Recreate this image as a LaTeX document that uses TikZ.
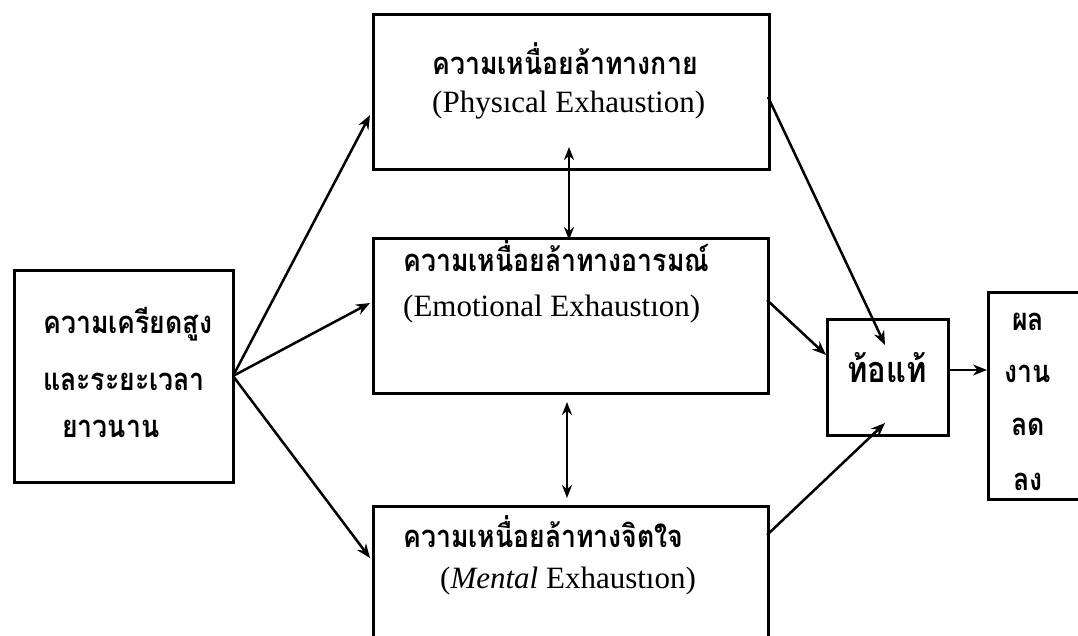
\documentclass[tikz,border=0pt]{standalone}
\usepackage{fontspec}
\setmainfont{Liberation Serif}
\newfontfamily\thaifont[Script=Thai,FakeStretch=0.86]{Loma}
\usetikzlibrary{arrows.meta,calc}
\begin{document}
\begin{tikzpicture}[x=1pt,y=-1pt,
  box/.style={draw, line width=2.8pt, inner sep=0pt, anchor=north west},
  th/.style={font=\thaifont\bfseries\fontsize{31}{36}\selectfont, inner sep=0pt, anchor=base west},
  en/.style={font=\fontsize{31}{36}\selectfont, inner sep=0pt, anchor=base west},
  link/.style={line width=2.5pt, -{Stealth[length=14pt,width=11pt]}},
  both/.style={line width=2.2pt, {Stealth[length=13pt,width=10pt]}-{Stealth[length=13pt,width=10pt]}}]
\useasboundingbox (0,0) rectangle (1078,636);
\clip (0,0) rectangle (1078,636);

% boxes
\node[box, minimum width=219pt, minimum height=212pt] (src)   at (13,269)  {};
\node[box, minimum width=396pt, minimum height=155pt] (phy)   at (372,13)  {};
\node[box, minimum width=395pt, minimum height=155pt] (emo)   at (372,237) {};
\node[box, minimum width=395pt, minimum height=150pt] (men)   at (372,505) {};
\node[box, minimum width=121pt, minimum height=116pt] (tired) at (826,318) {};
\node[box, minimum width=110pt, minimum height=207pt] (perf)  at (987,291) {};

% texts
\node[th] (src1) at (43,333) {ความเครียดสูง};
\node[th] (src2) at (43,390) {และระยะเวลา};
\node[th] (src3) at (62,437) {ยาวนาน};

\node[th] (phyth) at (432,75)  {ความเหนื่อยล้าทางกาย};
\node[en] (phyen) at (432,113) {(Physıcal Exhaustion)};

\node[th] (emoth) at (403,272) {ความเหนื่อยล้าทางอารมณ์};
\node[en] (emoen) at (403,316) {(Emotional Exhaustıon)};

\node[th] (menth) at (403,547) {ความเหนื่อยล้าทางจิตใจ};
\node[en] (menen) at (440,588) {(\textit{Mental} Exhaustıon)};

\node[th, anchor=base, font=\thaifont\bfseries\fontsize{36}{40}\selectfont] (tiredt) at (887,382) {ท้อแท้};

\node[th, anchor=base] (p1) at (1028,330) {ผล};
\node[th, anchor=base] (p2) at (1028,382) {งาน};
\node[th, anchor=base] (p3) at (1028,435) {ลด};
\node[th, anchor=base] (p4) at (1028,490) {ลง};

% connector end points
\coordinate (s)   at (233,376);
\coordinate (sp)  at (370,115);
\coordinate (se)  at (370,303);
\coordinate (sm)  at (370,558);
\coordinate (po)  at (768,97);
\coordinate (pt)  at (885,345);
\coordinate (eo)  at (767,300);
\coordinate (et)  at (826,355);
\coordinate (mo)  at (767,535);
\coordinate (mt)  at (885,423);
\coordinate (to)  at (947,370);
\coordinate (pi)  at (987,370);
\coordinate (u1)  at (569,147);
\coordinate (u2)  at (569,240);
\coordinate (v1)  at (567,402);
\coordinate (v2)  at (567,498);

\draw[link] (s) -- (sp);
\draw[link] (s) -- (se);
\draw[link] (s) -- (sm);
\draw[link] (po) -- (pt);
\draw[link] (eo) -- (et);
\draw[link] (mo) -- (mt);
\draw[link] (to) -- (pi);
\draw[both] (u1) -- (u2);
\draw[both] (v1) -- (v2);
\end{tikzpicture}
\end{document}
